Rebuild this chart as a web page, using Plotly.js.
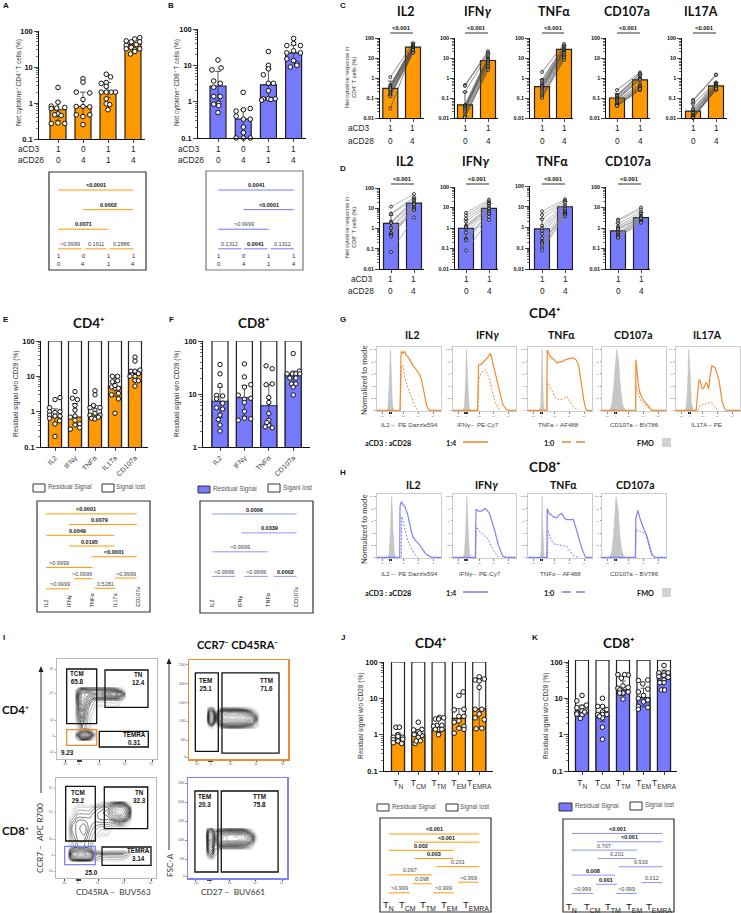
<!DOCTYPE html>
<html><head><meta charset="utf-8">
<script src="https://cdn.plot.ly/plotly-3.0.1.min.js"></script>
<style>html,body{margin:0;padding:0;background:#fff}#c{width:741px;height:913px}</style></head>
<body><div id="c"></div>
<script>
const W=741,H=913;
const ORANGE='#FF9900',BLUE='#7779FF',LINEO='#F28A30',LINEB='#8082F5';
const ARIAL='Liberation Sans, Arial, sans-serif',LATO='Lato, sans-serif';

/* ---------- panels A, B ---------- */
const stimCD3=['1','0','1','1'], stimCD28=['0','4','1','4'];
const A_means=[.65,.8,2,43], A_low=[.33,.42,1.4,30], A_high=[1.05,2,3.7,55];
const A_points=[
 [[0,2.7],[0,1.05],[-.27,.82],[.27,.75],[-.27,.7],[-.05,.72],[0,.5],[-.13,.47],[.13,.45],[-.27,.27],[0,.28],[.27,.27]],
 [[0,4.7],[0,3.8],[-.27,2],[.27,1.9],[0,1.25],[-.27,.8],[0,.8],[.27,.78],[-.27,.47],[.27,.47],[0,.42],[0,.25]],
 [[-.07,6.3],[.1,5.3],[-.27,3.5],[-.07,3.7],[-.07,2.9],[-.27,2],[-.07,2],[.13,2],[.3,2],[-.07,1.3],[-.07,.95],[.07,.9],[0,.65]],
 [[.27,65],[.07,60],[-.27,53],[-.07,50],[.27,50],[.13,42],[-.27,40],[-.27,32],[-.07,35],[.27,32],[.07,30],[-.1,23],[.07,27]]];
const B_means=[2.7,.33,2.9,22], B_low=[1.1,.14,1.2,13], B_high=[6.8,.6,8,36];
const B_points=[
 [[0,14],[-.24,7.5],[.12,8.5],[-.17,3.7],[.09,3.2],[-.17,2.5],[.09,1.4],[-.17,1.4],[.03,.9],[-.17,.85],[.03,.78],[0,.5]],
 [[0,1.8],[-.28,.55],[.01,.6],[.28,.65],[-.28,.4],[.01,.33],[.28,.33],[.01,.2],[.01,.14],[-.28,.1],[.01,.1],[.28,.1]],
 [[0,24],[0,10],[0,8],[-.2,5.5],[0,3.2],[.2,3.2],[0,2],[-.2,1.2],[0,1.2],[.27,1.2],[-.27,1.1],[.1,1.15]],
 [[0,55],[0,40],[-.27,35],[.27,35],[0,25],[.27,22],[-.27,15],[0,13.5],[.13,11],[-.13,9],[.13,10],[-.27,22]]];
/* brackets: from category, to category, row, p value, bold, label shift */
const A_stats=[[0,3,0,'<0.0001',1],[1,3,1,'0.0002',1],[0,2,2,'0.0071',1],[0,.93,3,'>0.9999',0],[1.09,1.93,3,'0.1611',0],[2.06,3,3,'0.2886',0]];
const B_stats=[[0,3,0,'0.0041',1],[1,3,1,'<0.0001',1],[0,2,2,'>0.9999',0],[0,.92,3,'0.1312',0],[1.02,1.95,3,'0.0041',1],[2.07,3,3,'0.1312',0]];

/* ---------- panels C, D: paired values ---------- */
const C_titles=['IL2','IFN<i>γ</i>','TNFα','CD107a','IL17A'];
const C_pre=[
 [1.1,.45,.4,.35,.3,.3,.25,.2,.18,.15,.14,.12,.03],
 [.45,.4,.2,.045,.04,.035,.03,.03,.025,.02,.015,.012,.011],
 [2,.8,.7,.55,.45,.4,.35,.3,.25,.2,.15,.12,.1],
 [.25,.14,.13,.12,.1,.09,.08,.07,.06,.05,.045,.04,.04],
 [.08,.07,.05,.03,.025,.02,.018,.015,.013,.012,.011,.01,.01]];
const C_post=[
 [55,45,42,38,35,33,30,28,25,22,20,18,25],
 [22,18,15,12,10,9,8,7,6,5,4,3,2.5],
 [50,42,35,30,27,25,22,20,18,15,12,10,8],
 [1.9,1.7,1.5,1.2,1,.9,.8,.5,.4,.35,.3,.25,.28],
 [1.5,1.4,.6,.55,.5,.45,.4,.38,.35,.3,.27,.25,.3]];
const C_means=[[.3,35],[.045,7.5],[.37,27],[.1,.8],[.022,.4]];
const C_low=[[.13,20],[.012,3.5],[.15,13],[.05,.35],[.012,.25]];
const C_high=[[.7,58],[.2,17],[.85,42],[.17,1.5],[.055,.6]];
const D_titles=['IL2','IFN<i>γ</i>','TNFα','CD107a'];
const D_pre=[
 [12,5.5,5,2.2,2,1.8,1,.6,.5,.45,.4,.07,1.1],
 [5.5,4,2.8,2,1.3,1.2,.9,.6,.3,.28,.25,.08,1.1],
 [6,4,2.5,1.2,.9,.7,.5,.3,.2,.18,.15,.1,.08],
 [2.6,2.3,1.7,1.2,1,.8,.6,.5,.45,.4,.35,.33,.9]];
const D_post=[
 [50,35,28,25,22,18,15,12,10,9,8,3.5,16],
 [24,20,17,15,12,10,8,7,6,5,3.5,2.5,9],
 [23,20,18,16,12,10,8,6.5,5.5,5,4.5,4,3.5],
 [10,8,6,5,4,3.5,3,2.8,2.5,2.3,2,1.8,3]];
const D_means=[[1.8,18],[.95,9],[.85,10],[.72,3.2]];
const D_low=[[.5,8],[.3,4.5],[.25,5],[.35,2]];
const D_high=[[4.5,32],[2.6,16],[2.7,18],[1.7,5.5]];

/* ---------- panels E, F, J, K ---------- */
const E_cats=['IL2','IFNγ','TNFα','IL17a','CD107a'];
const E_means=[.7,.7,.85,5,12], E_low=[.45,.42,.65,2.7,7.5], E_high=[1.2,1.7,1.5,9,15];
const E_points=[
 [[.25,2.5],[0,2.2],[-.27,1.3],[-.27,1],[.25,1],[0,.95],[-.27,.8],[0,.75],[.25,.75],[-.27,.65],[.23,.55],[0,.45],[0,.2]],
 [[0,3.7],[-.13,2.4],[.12,2.2],[0,1.5],[0,1.1],[-.23,.7],[0,.75],[0,.57],[0,.42],[.23,.45],[.23,.35],[-.23,.32]],
 [[0,3.9],[0,3],[-.08,1.5],[-.25,1.3],[.25,1.3],[0,1.1],[-.25,.8],[0,.9],[.25,.8],[-.17,.65],[0,.62],[.17,.7]],
 [[-.13,10],[.13,10],[-.13,7],[.13,7.5],[0,4.6],[-.17,5],[.17,4.6],[-.17,3],[.17,3.3],[.17,2.3],[0,.9],[0,5.5]],
 [[0,35],[0,27],[-.2,14],[0,14],[.25,15],[-.17,11],[0,10],[.17,12],[-.25,10],[0,7.7],[0,5.3],[.17,7.5]]];
const E_stats=[[0,3.98,0,'<0.0001',1,-.23],[1,3.98,1,'0.0079',1,-.13],[0,2.99,2,'0.0049',1,-.13],[1,2.99,3,'0.0195',1,-.07],[1.99,3.98,4,'<0.0001',1,0],
 [0,2.04,5,'>0.9999',0,-.47],[1.23,2.04,6.05,'>0.9999',0,-.07],[3.02,3.98,6,'>0.9999',0,0],[0,1,7,'>0.9999',0,.13],[2.13,3.05,6.95,'0.5281',0,0]];
const F_cats=['IL2','IFNγ','TNFα','CD107a'];
const F_means=[7.3,8.5,6,23], F_low=[3.6,3.8,2.8,15], F_high=[13.5,14.5,15,27];
const F_points=[
 [[0,36],[0,24],[0,14.5],[-.14,9.4],[.11,9.2],[-.14,8.1],[.11,6.7],[-.14,5.5],[.11,5.2],[0,4],[0,2.6],[0,2],[-.07,3.3]],
 [[0,37],[0,21],[.26,15],[0,13.5],[-.25,9.5],[0,8],[.26,8.3],[0,6.9],[0,4.7],[-.25,3.2],[0,3.5],[.26,3.4]],
 [[-.11,34],[.14,30],[-.11,15],[.14,15.5],[0,8.6],[0,6.9],[0,4.3],[0,3.2],[0,2.6],[-.15,2.4],[.14,2.3],[-.08,2.9]],
 [[0,58],[-.25,24],[-.03,24],[.11,24],[.25,27],[-.14,20],[.11,20],[-.07,15.5],[.11,15.5],[0,13.5],[0,9.6],[.27,24]]];
const F_stats=[[0,3,0,'0.0006',1],[1.04,3,1,'0.0339',1],[0,1.97,2,'>0.9999',0],[0,.81,3.3,'>0.9999',0],[1.14,1.97,3.3,'>0.9999',0],[2.19,3,3.3,'0.0002',1]];
const J_subs=['N','CM','TM','EM','EMRA'];
const J_means=[.75,1,1.35,2.8,5.1], J_low=[.6,.7,1.15,1.5,1.5], J_high=[1.1,1.4,2.9,5.2,36];
const J_points=[
 [[-.1,1.6],[.07,1.6],[0,1],[-.23,.85],[.23,.85],[0,.8],[-.23,.72],[.23,.75],[0,.67],[-.23,.6],[.18,.57],[0,.9]],
 [[0,2.2],[-.23,1.35],[.18,1.4],[0,1.2],[0,.95],[-.2,1],[.18,.95],[0,.85],[.1,.68],[-.15,.57],[-.1,.67],[.07,1.1]],
 [[.05,3],[-.16,2.7],[.25,2.9],[0,2.7],[-.08,1.8],[.16,1.8],[-.25,1.7],[0,1.4],[.16,1.4],[-.16,1.4],[0,1]],
 [[.21,15],[0,12],[-.23,4.8],[.25,5],[0,3.2],[-.23,2.2],[.25,1.7],[0,1.5],[.25,1.4],[-.23,1.1],[0,2.4],[.25,3.2]],
 [[0,39],[-.2,32],[.25,34],[0,20],[-.2,5],[.13,5],[0,3.7],[-.2,2.9],[.25,2.6],[.13,1.5],[-.15,1.45],[0,30]]];
const J_stats=[[0,4,0,'<0.001',1],[1.12,4,1,'<0.001',1],[0,2.87,2,'0.002',1],[1.15,2.84,3,'0.003',1],[2.09,4,4,'0.201',0],[0,1.9,5,'0.067',0],
 [1.07,1.9,6.1,'0.098',0],[3.07,3.97,5.9,'>0.999',0],[0,.93,7.2,'>0.999',0],[1.96,2.87,7.2,'>0.999',0]];
const K_means=[4.5,3.7,17,10.5,50], K_low=[3.2,2.3,12,6,30], K_high=[6.5,5.8,30,19,60];
const K_points=[
 [[0,12],[-.25,8.5],[.21,6.5],[0,5.7],[-.25,5.5],[0,4.5],[.21,4.5],[-.25,4],[0,3.5],[-.25,3.7],[-.08,2.8],[.13,4.2]],
 [[0,10],[-.23,6],[0,6],[.21,4.9],[0,4.2],[-.23,3.6],[.21,3.6],[0,3.6],[0,2.9],[0,1.6],[0,.75],[-.15,3.2]],
 [[-.25,45],[.25,44],[-.08,36],[.08,45],[-.25,19],[0,22],[.25,20],[-.16,17],[0,14],[.25,15],[-.16,14],[0,9.5]],
 [[-.25,31],[.21,32],[-.03,25],[.21,18],[-.25,15],[0,12],[-.25,10],[.21,9],[0,8],[-.25,6],[.21,5.6],[-.25,5]],
 [[0,80],[-.25,50],[0,50],[.2,50],[-.25,40],[0,43],[0,32],[0,27],[.2,38],[-.13,17],[.03,17],[-.2,27]]];
const K_stats=[[0,4,0,'<0.001',1],[1.12,4,1,'<0.001',1],[0,2.87,2,'0.707',0],[1.15,2.84,3,'0.201',0],[2.07,4,4,'0.933',0],[0,1.91,5,'0.008',1],
 [1.07,1.99,6.1,'0.001',1],[3.07,4,5.9,'0.012',0],[0,.94,7.2,'>0.999',0],[1.94,2.87,7.2,'>0.999',0]];

/* ---------- panels G, H: histograms (channel position, % of mode) ---------- */
const G_titles=['IL2','IFN<i>γ</i>','TNFα','CD107a','IL17A'];
const G_xlabels=['IL2 –  PE Dazzle594','IFNγ–  PE-Cy7','TNFa – AF488','CD107a – BV786','IL17A – PE'];
const H_titles=['IL2','IFN<i>γ</i>','TNFα','CD107a'];
const H_xlabels=['IL2 –  PE Dazzle594','IFNγ–  PE-Cy7','TNFα – AF488','CD107a – BV786'];
const G_fmo=[
 [[15,0],[17,3],[19,40],[21,100],[23,40],[24,12],[26,0]],
 [[16,0],[18,6],[20,45],[21.5,100],[23,55],[25,12],[27,0]],
 [[18,0],[20,8],[21,50],[22,100],[23,50],[24,8],[26,0]],
 [[12,0],[15,8],[18,35],[21,85],[23,100],[26,80],[29,35],[32,10],[36,0]],
 [[14,0],[16,6],[18,35],[20,100],[22,60],[24,14],[27,0]]];
const G_solid=[
 [[0,0],[36,0],[37.5,90],[38,96],[41,94],[43,97],[46,90],[48,88],[52,82],[56,74],[62,66],[67,58],[70,48],[72,36],[75,22],[78,6],[82,0],[100,0]],
 [[0,0],[39,0],[40.5,74],[44,75],[48,79],[52,84],[56,88],[59,94],[61,88],[65,70],[68,58],[72,42],[76,24],[79,10],[85,1],[88,0],[100,0]],
 [[0,0],[29.5,0],[30,99],[33,92],[35,88],[40,84],[45,78],[50,80],[54,80],[58,83],[64,85],[71,86],[75,83],[79,75],[81,60],[84,40],[87,18],[90,3],[92,0],[100,0]],
 [[0,0],[52.5,0],[53,83],[55,60],[57,40],[59,30],[62,22],[66,15],[70,10],[74,5],[78,0],[100,0]],
 [[0,0],[31.5,0],[34,30],[36,50],[38,48],[41,35],[44,38],[47,46],[49,42],[51,35],[53,55],[56,73],[58,72],[61,70],[64,60],[67,50],[70,30],[72,15],[75,5],[77,1],[80,0],[100,0]]];
const G_dash=[
 [[36.5,0],[37.5,60],[38,73],[41,73],[43,55],[48,38],[54,20],[59,8],[64,0]],
 [[39.5,0],[41,52],[45,62],[48,65],[51,67],[55,58],[59,48],[63,28],[66,15],[74,1]],
 [[29.5,0],[30,47],[33,42],[35,38],[39,30],[43,20],[48,18],[53,18],[58,21],[61,23],[65,15],[69,8],[74,3],[79,1]],
 [[52.5,0],[53,40],[55,32],[57,25],[60,18],[62,15],[66,10],[70,6],[78,0]],
 [[34,0],[38,8],[41,10],[45,9],[48,12],[52,13],[56,12],[61,5],[67,0]]];
const H_fmo=[
 [[17,0],[19,5],[21,45],[23,100],[25,45],[27,8],[29,0]],
 [[16,0],[18,5],[20,40],[22,100],[24,45],[26,8],[28,0]],
 [[19,0],[20.5,10],[21.5,55],[22,100],[23,50],[24,8],[25,0]],
 [[12,0],[15,8],[18,35],[20,75],[22,100],[25,80],[28,35],[31,10],[35,0]]];
const H_solid=[
 [[0,0],[35.5,0],[36,84],[38,91],[41,86],[43,85],[46,76],[48,70],[52,50],[56,34],[60,28],[67,20],[72,12],[77,5],[85,0],[100,0]],
 [[0,0],[35.5,0],[36.5,79],[40,76],[45,76],[48,78],[51,80],[55,76],[58,72],[62,58],[66,45],[72,20],[76,8],[79,2],[84,0],[100,0]],
 [[0,0],[29.5,0],[30,80],[33,72],[36,70],[41,66],[45,65],[49,70],[53,72],[57,64],[61,62],[66,62],[71,62],[75,48],[79,35],[84,15],[90,0],[100,0]],
 [[0,0],[52,0],[53,65],[56,77],[59,65],[62,55],[66,45],[70,35],[74,20],[78,5],[83,0],[100,0]]];
const H_dash=[
 [[38,0],[38.5,67],[41,58],[43,48],[47,32],[51,20],[55,12],[59,5],[64,0]],
 [[36,0],[37,50],[41,44],[45,40],[50,35],[56,30],[60,20],[64,12],[72,1]],
 [[30.5,0],[31,45],[35,32],[40,22],[46,21],[53,20],[57,19],[61,18],[66,10],[71,3],[79,0]],
 [[52.5,0],[53.5,46],[57,44],[62,42],[66,40],[69,38],[73,20],[78,3],[82,0]]];

/* ---------- panel I: flow cytometry ---------- */
const I_cd4_x=[18,22,25,28,32,36,40,50,60,66,69], I_cd4_y=[18,20,24,28,31,40,50,58,61,65,69,72];
const I_cd4_z=[[0,0,0,0,0,0,0,0,0,0,0],[0,2,4,4,3,1,0,0,0,0,0],[0,5,9,9,8,3,0,0,0,0,0],[0,2,4,5,3,1,0,0,0,0,0],[0,1,3,2,1,0,0,0,0,0,0],[0,3,5,3,1,0,0,0,0,0,0],
 [0,4,6,4,2,1,0,0,0,0,0],[0,5,7,6,4,2,1,1,1,0,0],[0,6,8,7,5,4,4,4,4,2,0],[0,5,8,8,7,6,6,7,8,4,0],[0,3,5,5,4,4,4,4,3,1,0],[0,0,1,1,1,1,1,1,0,0,0]];
const I_cd8_x=[12,16,22,28,34,38,45,52,58,64,68,72,76], I_cd8_y=[16,19,24,28,32,40,50,56,60,65,70,74,77];
const I_cd8_z=[[0,0,0,0,0,0,0,0,0,0,0,0,0],[0,4,6,6,5,2,1,1,1,1,1,0,0],[0,7,9,9,8,4,3,3,3,3,3,2,0],[0,4,6,6,4,1,0,0,0,0,0,0,0],[0,1,3,3,2,0,0,0,0,0,0,0,0],
 [0,2,4,4,2,1,0,0,0,0,0,0,0],[0,3,4,5,3,2,1,1,0,0,0,0,0],[0,2,4,4,3,3,3,3,3,4,3,1,0],[0,1,3,3,3,3,4,4,6,7,7,4,0],[0,0,2,2,2,3,4,5,8,10,9,6,0],[0,0,1,1,1,2,3,4,7,9,8,5,0],[0,0,0,0,0,0,1,2,4,5,4,1,0],[0,0,0,0,0,0,0,0,0,0,0,0,0]];
const I_ttm_x=[18,21,24,27,30,34,40,50,58,64,68,71];
const I_ttm4_y=[30,33,37,42,47,50,53];
const I_ttm4_z=[[0,0,0,0,0,0,0,0,0,0,0,0],[0,1,1,0,1,3,4,4,3,2,1,0],[0,5,6,1,4,7,8,8,7,5,2,0],[0,7,9,2,6,9,11,11,10,7,3,0],[0,5,6,1,4,7,8,8,6,3,1,0],[0,3,3,0,1,3,3,3,2,1,0,0],[0,1,1,0,0,0,0,0,0,0,0,0]];
const I_ttm8_y=[18,22,28,33,38,42,46,50];
const I_ttm8_z=[[0,0,0,0,0,0,0,0,0,0,0,0],[0,2,3,1,0,0,0,0,0,0,0,0],[0,5,6,2,1,0,0,0,0,0,0,0],[0,6,7,3,4,5,5,5,4,2,0,0],[0,7,9,4,7,9,10,10,8,5,1,0],[0,7,8,4,6,8,10,11,9,5,1,0],[0,5,6,3,4,5,6,6,5,2,0,0],[0,2,2,0,0,1,1,1,0,0,0,0]];
/* gates: x0,x1,y0,y1 in channel percent, colour key */
const I_gates_cd4=[[9.7,39.7,35.3,90,'k'],[48,91,51.7,89,'k'],[9.7,39.7,13.7,29.3,'o'],[42.3,91.3,12,27.7,'k']];
const I_gates_cd8=[[9.7,39.3,37,91.7,'k'],[48.3,91.7,49.3,91,'k'],[8.7,39.3,13.3,31.7,'b'],[46,95,12.7,31,'k']];
const I_gates_t4=[[6.4,29.6,7.7,87,'k'],[33.3,90.9,6,87,'k']];
const I_gates_t8=[[7,30.2,6,87,'k'],[33.6,91,6,87,'k']];
const I_labels_cd4=[['TCM<br>65.8',20.3,81.5],['TN<br>12.4',81.5,81],['TEMRA<br>0.31',77,21],['9.23',10.7,6.7]];
const I_labels_cd8=[['TCM<br>29.2',21.7,81.7],['TN<br>32.3',83,81.7],['TEMRA<br>3.14',82,23.7],['25.0',35,6]];
const I_labels_t4=[['TEM<br>25.1',16.5,75],['TTM<br>71.6',78,75]];
const I_labels_t8=[['TEM<br>20.3',16.8,78],['TTM<br>75.8',72,78]];

/* ---------- builder ---------- */
const traces=[],shapes=[],annotations=[],layout={};
let nAx=0;
const fx=x=>x/W, fy=y=>1-y/H;
const tSub=(s,sz)=>`T<span style="font-size:${sz}px;baseline-shift:-2.5px">${s}</span>`;
function panel(x0,y0,x1,y1,xa,ya){
  nAx++;const n=nAx===1?'':nAx;
  layout['xaxis'+n]=Object.assign({domain:[fx(x0),fx(x1)],anchor:'y'+n,showgrid:false,zeroline:false,fixedrange:true},xa);
  layout['yaxis'+n]=Object.assign({domain:[fy(y1),fy(y0)],anchor:'x'+n,showgrid:false,zeroline:false,fixedrange:true},ya);
  return {x:'x'+n,y:'y'+n};
}
function T(text,x,y,size,o={}){
  annotations.push(Object.assign({text,x:fx(x),y:fy(y),xref:'paper',yref:'paper',showarrow:false,xanchor:'center',yanchor:'middle',
    font:{family:o.family||ARIAL,size,color:o.color||'#222'},borderpad:0},o.extra||{},o.angle!==undefined?{textangle:o.angle}:{}));
}
function AT(ax,text,x,y,size,o={}){
  annotations.push(Object.assign({text,x,y,xref:ax.x,yref:ax.y,showarrow:false,xanchor:'center',yanchor:'middle',
    font:{family:o.family||ARIAL,size,color:o.color||'#222'},borderpad:0},o.extra||{},o.angle!==undefined?{textangle:o.angle}:{}));
}
function rowText(ax,x,text,y,size){ annotations.push({text,x,y:fy(y),xref:ax.x,yref:'paper',showarrow:false,xanchor:'center',yanchor:'middle',font:{family:ARIAL,size,color:'#222'},borderpad:0}); }
const minorVals=(lo,hi)=>{const v=[];for(let e=lo;e<hi;e++)for(let m=2;m<=9;m++)v.push(m*Math.pow(10,e));return v;};
function logAxis(lo,hi,top,labels,size){
  const vals=[];for(let e=lo;e<=hi;e++)vals.push(Math.pow(10,e));
  return {type:'log',range:[lo,top===undefined?hi:top],tickmode:'array',tickvals:vals,ticktext:labels,ticks:'outside',ticklen:3.5,tickwidth:1,
    showline:true,linewidth:1.2,linecolor:'#111',tickfont:{family:ARIAL,size,color:'#111',weight:700},
    minor:{ticks:'outside',ticklen:2,tickwidth:.6,tickcolor:'#111',tickmode:'array',tickvals:minorVals(lo,hi)}};
}
function errBar(ms,lo,hi,cap){return {type:'data',symmetric:false,array:ms.map((m,i)=>hi[i]-m),arrayminus:ms.map((m,i)=>m-lo[i]),color:'#333',thickness:.8,width:cap};}
function barChart(g){
  const sp=g.sp,ax=panel(g.l,g.t,g.r,g.b,
    Object.assign({range:[(g.l-g.first)/sp,(g.r-g.first)/sp],tickmode:'array',tickvals:g.means.map((_,i)=>i),ticks:'outside',ticklen:3,showline:true,linewidth:1.2,linecolor:'#111'},
      g.xlabels?{ticktext:g.xlabels,tickfont:g.xfont,tickangle:g.xangle===undefined?0:g.xangle}:{showticklabels:false}),
    logAxis(g.lo,g.hi,g.top,g.ylabels,g.ysize||7.5));
  const xs=g.means.map((_,i)=>i),w=g.bw/sp;
  if(g.whiteTop)traces.push({type:'bar',x:xs,y:xs.map(()=>g.whiteTop),width:w,xaxis:ax.x,yaxis:ax.y,marker:{color:'#fff',line:{color:'#222',width:1.2}}});
  traces.push({type:'bar',x:xs,y:g.means,width:w,xaxis:ax.x,yaxis:ax.y,marker:{color:g.color,line:{color:'#222',width:1.2}},error_y:errBar(g.means,g.low,g.high,3)});
  const px=[],py=[];g.points.forEach((arr,i)=>arr.forEach(p=>{px.push(i+p[0]);py.push(p[1]);}));
  traces.push({type:'scatter',mode:'markers',x:px,y:py,xaxis:ax.x,yaxis:ax.y,cliponaxis:false,marker:{size:g.ms||4.6,color:'rgba(255,255,255,.9)',line:{color:'#111',width:1}}});
  return ax;
}
function statBox(g){
  const ax=panel(g.l,g.t,g.r,g.b,{range:g.xr,visible:false},{range:g.yr,visible:false});
  shapes.push({type:'rect',xref:'paper',yref:'paper',x0:fx(g.l),x1:fx(g.r),y0:fy(g.b),y1:fy(g.t),line:{color:g.frame||'#333',width:1.2},fillcolor:'rgba(0,0,0,0)'});
  const lx=[],ly=[];
  g.stats.forEach(s=>{lx.push(s[0],s[1],null);ly.push(s[2],s[2],null);
    AT(ax,s[4]?'<b>'+s[3]+'</b>':s[3],(s[0]+s[1])/2+(s[5]||0),s[2],g.font||5.5,{color:s[4]?'#111':'#444',extra:{yshift:g.shift||4.8}});});
  traces.push({type:'scatter',mode:'lines',x:lx,y:ly,xaxis:ax.x,yaxis:ax.y,line:{color:g.color,width:1},connectgaps:false});
  return ax;
}
const catXrange=(l,r,first,sp)=>[(l-first)/sp,(r-first)/sp];
const leftT=(t,x,y,size)=>T(t,x,y,size,{extra:{xanchor:'left'}});

/* A, B */
const lab3=['0.1','1','10','100'];
const axA=barChart({l:39,r:145,t:31,b:139,first:58,sp:25,bw:16,means:A_means,low:A_low,high:A_high,points:A_points,color:ORANGE,lo:-1,hi:2,ylabels:lab3});
const axB=barChart({l:198,r:306,t:29,b:138,first:218,sp:25.2,bw:16,means:B_means,low:B_low,high:B_high,points:B_points,color:BLUE,lo:-1,hi:2,ylabels:lab3});
[axA,axB].forEach((ax,k)=>{stimCD3.forEach((v,i)=>{rowText(ax,i,v,149,8.3);rowText(ax,i,stimCD28[i],160,8.3);});
  leftT('aCD3',k?177:17,149,8.3);leftT('aCD28',k?177:17,160,8.3);});
T('Net cytokine⁺ CD4⁺ T cells (%)',19,83,6.5,{angle:-90,color:'#333'});
T('Net cytokine⁺ CD8⁺ T cells (%)',177,83,6.5,{angle:-90,color:'#333'});
const sA=statBox({l:49,r:146,t:172,b:270,xr:catXrange(49,146,58,25.1),yr:[4.08,-.92],stats:A_stats,color:ORANGE});
const sB=statBox({l:206,r:303,t:171,b:270,xr:catXrange(206,303,218.3,25.2),yr:[4.08,-.97],stats:B_stats,color:BLUE,frame:'#777'});
[sA,sB].forEach(ax=>stimCD3.forEach((v,i)=>{AT(ax,v,i,3.37,5.8);AT(ax,stimCD28[i],i,3.77,5.8);}));

/* C, D */
function pairChart(g){
  const sp=g.b1-g.b0,ax=panel(g.l,g.t,g.r,g.bot,
    {range:[(g.l-g.b0)/sp,(g.r-g.b0)/sp],tickmode:'array',tickvals:[0,1],showticklabels:false,ticks:'outside',ticklen:3,showline:true,linewidth:1.2,linecolor:'#111'},
    logAxis(-2,2,undefined,['0.01','0.1','1','10','100'],5.5));
  traces.push({type:'bar',x:[0,1],y:g.means,width:15/sp,xaxis:ax.x,yaxis:ax.y,marker:{color:g.color,line:{color:'#222',width:1.2}},error_y:errBar(g.means,g.low,g.high,2.5)});
  const lx=[],ly=[];g.pre.forEach((v,i)=>{lx.push(0,1,null);ly.push(v,g.post[i],null);});
  traces.push({type:'scatter',mode:'lines+markers',x:lx,y:ly,xaxis:ax.x,yaxis:ax.y,cliponaxis:false,connectgaps:false,line:{color:g.lineColor,width:.6},marker:{size:3,color:'rgba(255,255,255,.5)',line:{color:'#111',width:.8}}});
  shapes.push({type:'line',xref:ax.x,yref:'paper',x0:0,x1:1,y0:fy(g.py+5),y1:fy(g.py+5),line:{color:'#333',width:1}});
  annotations.push({text:'<b><0.001</b>',x:.5,y:fy(g.py),xref:ax.x,yref:'paper',xanchor:'center',yanchor:'middle',showarrow:false,font:{family:ARIAL,size:5.8,color:'#111'},borderpad:0});
  T('<b>'+g.title+'</b>',g.tx,g.ty,12.5,{family:LATO,color:'#111'});
  rowText(ax,0,'1',g.r1,8.3);rowText(ax,1,'1',g.r1,8.3);rowText(ax,0,'0',g.r2,8.3);rowText(ax,1,'4',g.r2,8.3);
}
const C_geo=[[380,424,390.3,413,405],[455,498,465,488,477],[530,573,542,564,554],[606,650,617,640,627],[682,727,693,716,701]];
C_geo.forEach((c,i)=>pairChart({l:c[0],r:c[1],b0:c[2],b1:c[3],t:38,bot:118,means:C_means[i],low:C_low[i],high:C_high[i],pre:C_pre[i],post:C_post[i],color:ORANGE,lineColor:'#444',title:C_titles[i],tx:c[4],ty:11,py:28,r1:128,r2:141}));
const D_geo=[[380,424,391,414,404,188],[455,498,466,489,476,187],[530,573,542,565,552,186],[606,650,618,641,628,187]];
D_geo.forEach((c,i)=>pairChart({l:c[0],r:c[1],b0:c[2],b1:c[3],t:c[5],bot:269,means:D_means[i],low:D_low[i],high:D_high[i],pre:D_pre[i],post:D_post[i],color:BLUE,lineColor:'#888',title:D_titles[i],tx:c[4],ty:161,py:179,r1:279,r2:291}));
leftT('aCD3',347,128,8.3);leftT('aCD28',347,141,8.3);leftT('aCD3',350,279,8.3);leftT('aCD28',347,291,8.3);
T('Net cytokine response in<br>CD4⁺ T cells (%)',351,78,5.6,{angle:-90,color:'#333'});
T('Net cytokine response in<br>CD8⁺ T cells (%)',351,228,5.6,{angle:-90,color:'#333'});

/* E, F */
const xf7={family:ARIAL,size:7,color:'#333'};
barChart({l:41,r:148,t:341,b:447,first:55,sp:20,bw:13,means:E_means,low:E_low,high:E_high,points:E_points,color:ORANGE,lo:-1,hi:2,ylabels:lab3,whiteTop:100,xlabels:E_cats,xangle:-45,xfont:xf7,ms:4.4});
barChart({l:203,r:310,t:341,b:447,first:220,sp:24.4,bw:16,means:F_means,low:F_low,high:F_high,points:F_points,color:BLUE,lo:0,hi:2,ylabels:['1','10','100'],whiteTop:100,xlabels:F_cats,xangle:-45,xfont:xf7,ms:4.4});
const bigT=(t,x,y)=>T('<b>'+t+'</b>',x,y,13.5,{family:LATO,color:'#111'});
bigT('CD4⁺',89,323);bigT('CD8⁺',254,323);
T('Residual signal w/o CD28 (%)',16,394,6.5,{angle:-90,color:'#333'});
T('Residual signal w/o CD28 (%)',177,394,6.5,{angle:-90,color:'#333'});
function legBox(x0,x1,y0,y1,color){shapes.push({type:'rect',xref:'paper',yref:'paper',x0:fx(x0),x1:fx(x1),y0:fy(y1),y1:fy(y0),fillcolor:color,line:{color:'#333',width:1}});}
function legText(t,x,y){T(t,x,y,6.3,{color:'#555',extra:{xanchor:'left'}});}
legBox(33,45,484,492,'#fff');legText('Residual Signal',47,487);legBox(102,114,484,492,'#fff');legText('Signal lost',115,487);
legBox(198,210,486,493,BLUE);legText('Residual Signal',212,489);legBox(268,280,484,492,'#fff');legText('Siganl lost',282,488);
const sE=statBox({l:37,r:150,t:501,b:612,xr:catXrange(37,150,46,22.8),yr:[9.16,-1.2],stats:E_stats,color:ORANGE,shift:4.5});
const sF=statBox({l:200,r:313,t:501,b:613,xr:catXrange(200,313,212.3,28.1),yr:[5.24,-.69],stats:F_stats,color:'#9092FA',shift:4.5});
E_cats.forEach((c,i)=>AT(sE,c,i,8.8,5.5,{angle:-90,extra:{yanchor:'bottom'}}));
F_cats.forEach((c,i)=>AT(sF,c,i,4.97,5.5,{angle:-90,extra:{yanchor:'bottom'}}));

/* G, H */
function hist(g){
  const ax=panel(g.l,g.t,g.r,g.b,
    {range:[0,100],tickmode:'array',tickvals:[8,21,42,65,88],ticktext:['-10³','0','10³','10⁴','10⁵'],tickfont:{size:2.5,color:'#666',family:ARIAL},ticks:'outside',ticklen:1.5,tickwidth:.6,tickcolor:'#333',showline:true,mirror:true,linecolor:'#ccc',linewidth:1,
     minor:{ticks:'outside',ticklen:1.5,tickwidth:.8,tickcolor:'#111',tickmode:'array',tickvals:[19,20,22,23]}},
    {range:[-1,104],tickmode:'array',tickvals:[0,20,40,60,80,100],ticktext:['0','20','40','60','80','100'],tickfont:{size:2.5,color:'#666',family:ARIAL},ticks:'outside',ticklen:1.5,tickwidth:.6,tickcolor:'#555',showline:true,mirror:true,linecolor:'#ccc',linewidth:1});
  const sp=a=>[a.map(p=>p[0]),a.map(p=>p[1])];
  let [fxs,fys]=sp(g.fmo);
  traces.push({type:'scatter',mode:'lines',x:fxs,y:fys,xaxis:ax.x,yaxis:ax.y,fill:'tozeroy',fillcolor:'#c6c6c6',line:{color:'#bbb',width:.5}});
  let [dx,dy]=sp(g.dash);
  traces.push({type:'scatter',mode:'lines',x:dx,y:dy,xaxis:ax.x,yaxis:ax.y,line:{color:g.c,width:1,dash:'2px,1.5px'}});
  let [sx,sy]=sp(g.solid);
  traces.push({type:'scatter',mode:'lines',x:sx,y:sy,xaxis:ax.x,yaxis:ax.y,line:{color:g.c,width:1.2}});
  T('<b>'+g.title+'</b>',g.tx,g.ty,10.5,{family:LATO,color:'#111'});
  T(g.xlab,g.xlx,g.xly,6.2,{color:'#444'});
}
const G_geo=[[377,441,412],[453,516,487],[528,592,561],[602,666,633],[676,740,707]];
G_geo.forEach((c,i)=>hist({l:c[0],r:c[1],t:347,b:411,fmo:G_fmo[i],solid:G_solid[i],dash:G_dash[i],c:LINEO,title:G_titles[i],tx:c[2],ty:335,xlab:G_xlabels[i],xlx:(c[0]+c[1])/2-(i==1?7:i==4?2:i==2?2:0),xly:424}));
const H_geo=[[377,441,413],[453,516,486],[528,592,563],[602,666,635]];
H_geo.forEach((c,i)=>hist({l:c[0],r:c[1],t:494,b:558,fmo:H_fmo[i],solid:H_solid[i],dash:H_dash[i],c:LINEB,title:H_titles[i],tx:c[2],ty:485,xlab:H_xlabels[i],xlx:(c[0]+c[1])/2-(i==1?4:0),xly:573}));
bigT('CD4⁺',545,313);bigT('CD8⁺',545,467);
T('Normalized to mode',364,380,7.8,{angle:-90,color:'#333',family:LATO});T('Normalized to mode',364,529,7.8,{angle:-90,color:'#333',family:LATO});
function histLegend(y,col){
  T('<b>aCD3 : aCD28</b>',388,y,7.3,{family:LATO,color:'#111'});
  T('<b>1:4</b>',451,y,7.3,{family:LATO,color:'#111'});T('<b>1:0</b>',549,y,7.3,{family:LATO,color:'#111'});T('<b>FMO</b>',645,y,7.3,{family:LATO,color:'#111'});
  const line=(a,b)=>shapes.push({type:'line',xref:'paper',yref:'paper',x0:fx(a),x1:fx(b),y0:fy(y-1),y1:fy(y-1),line:{color:col,width:1.6}});
  line(463,488);line(562,571);line(576,585);
  shapes.push({type:'rect',xref:'paper',yref:'paper',x0:fx(662),x1:fx(671),y0:fy(y+4),y1:fy(y-5),fillcolor:'#d2d2d2',line:{width:0}});
}
histLegend(443,LINEO);histLegend(593,LINEB);

/* I */
const hazeScale=[[0,'#ffffff'],[.03,'#e6e6e6'],[.1,'#e0e0e0'],[.2,'#ffffff'],[1,'#ffffff']];
const lineScale=[[0,'#9a9a9a'],[.1,'#444'],[.3,'#000'],[.6,'#444'],[1,'#999']];
const gateCol={k:'#111',o:LINEO,b:LINEB};
function flow(g){
  const ax=panel(g.l,g.t,g.r,g.b,
   {range:[0,100],tickmode:'array',tickvals:[8,22,42,68,95],ticktext:['-10³','0','10³','10⁴','10⁵'],ticks:'outside',ticklen:1.5,tickwidth:.8,tickcolor:'#111',tickfont:{size:2.8,color:'#555',family:ARIAL},showline:true,mirror:true,linecolor:g.frame,linewidth:g.fw,
    minor:{ticks:'outside',ticklen:1.5,tickwidth:.8,tickcolor:'#111',tickmode:'array',tickvals:[20,21,23,24]}},
   {range:[0,100],tickmode:'array',tickvals:g.yt,ticktext:g.ytl,ticks:'outside',ticklen:1.5,tickwidth:.6,tickcolor:'#555',tickfont:{size:2.8,color:'#555',family:ARIAL},showline:true,mirror:true,linecolor:g.frame,linewidth:g.fw});
  traces.push({type:'contour',x:g.cx,y:g.cy,z:g.cz,xaxis:ax.x,yaxis:ax.y,autocontour:false,zmin:0,zmax:11,contours:{coloring:'fill',start:.15,end:3,size:.4,showlines:false},line:{width:0,smoothing:1.3},colorscale:hazeScale,showscale:false});
  traces.push({type:'contour',x:g.cx,y:g.cy,z:g.cz,xaxis:ax.x,yaxis:ax.y,autocontour:false,zmin:0,zmax:11,contours:{coloring:'lines',start:.8,end:11,size:.7},line:{width:.55,smoothing:1.3},colorscale:lineScale,showscale:false});
  g.gates.forEach(s=>shapes.push({type:'rect',xref:ax.x,yref:ax.y,x0:s[0],x1:s[1],y0:s[2],y1:s[3],line:{color:gateCol[s[4]],width:1.3},fillcolor:'rgba(0,0,0,0)'}));
  g.labels.forEach(s=>AT(ax,'<b>'+s[0]+'</b>',s[1],s[2],6.3,{color:'#111'}));
}
const flY=[90,66,39,23,7],flYl=['10⁵','10⁴','10³','0','-10³'],fsY=[95,76,57,38,19,2],fsYl=['250K','200K','150K','100K','50K','0'];
flow({l:57,r:157,t:659,b:759,frame:'#bbb',fw:1,yt:flY,ytl:flYl,cx:I_cd4_x,cy:I_cd4_y,cz:I_cd4_z,gates:I_gates_cd4,labels:I_labels_cd4});
flow({l:56,r:156,t:778,b:878,frame:'#bbb',fw:1,yt:flY,ytl:flYl,cx:I_cd8_x,cy:I_cd8_y,cz:I_cd8_z,gates:I_gates_cd8,labels:I_labels_cd8});
flow({l:189,r:288,t:660,b:759,frame:LINEO,fw:1.5,yt:fsY,ytl:fsYl,cx:I_ttm_x,cy:I_ttm4_y,cz:I_ttm4_z,gates:I_gates_t4,labels:I_labels_t4});
flow({l:188,r:287,t:778,b:878,frame:LINEB,fw:1.5,yt:fsY,ytl:fsYl,cx:I_ttm_x,cy:I_ttm8_y,cz:I_ttm8_z,gates:I_gates_t8,labels:I_labels_t8});
T('<b>CCR7⁻ CD45RA⁻</b>',237,644,11,{family:LATO,color:'#111'});
T('<b>CD4⁺</b>',15,709,11.5,{family:LATO,color:'#111'});T('<b>CD8⁺</b>',15,830,11.5,{family:LATO,color:'#111'});
T('CCR7 –  APC R700',40,838,8.3,{angle:-90,color:'#333',family:LATO});
T('CD45RA –  BUV563',113,892,8.3,{color:'#333',family:LATO});
T('FSC-A',170,865,8.3,{angle:-90,color:'#333',family:LATO});
T('CD27 –  BUV661',233,892,8.3,{color:'#333',family:LATO});
function arrow(x,yTop,yBot){
  shapes.push({type:'line',xref:'paper',yref:'paper',x0:fx(x),x1:fx(x),y0:fy(yBot),y1:fy(yTop+4),line:{color:'#333',width:1}});
  shapes.push({type:'path',xref:'paper',yref:'paper',path:`M ${fx(x)} ${fy(yTop)} L ${fx(x-2.5)} ${fy(yTop+6)} L ${fx(x+2.5)} ${fy(yTop+6)} Z`,fillcolor:'#222',line:{width:0}});
}
arrow(41,666,793);arrow(169,658,850);

/* J, K */
const xf9={family:ARIAL,size:9,color:'#333'};
const J_ticks=J_subs.map(s=>tSub(s,6.5));
barChart({l:384,r:493,t:662,b:771,first:398,sp:20.3,bw:13,means:J_means,low:J_low,high:J_high,points:J_points,color:ORANGE,lo:-1,hi:2,ylabels:lab3,whiteTop:100,xlabels:J_ticks,xfont:xf9,ms:4.6});
barChart({l:569,r:677,t:660,b:771,first:582,sp:20.5,bw:13,means:K_means,low:K_low,high:K_high,points:K_points,color:BLUE,lo:-1,hi:2,top:2.055,ylabels:lab3,whiteTop:113,xlabels:J_ticks,xfont:xf9,ms:4.6});
bigT('CD4⁺',431,643);bigT('CD8⁺',619,643);
T('Residual signal w/o CD28 (%)',361,716,6.5,{angle:-90,color:'#333'});
T('Residual signal w/o CD28 (%)',546,716,6.5,{angle:-90,color:'#333'});
legBox(377,389,804,811,'#fff');legText('Residual Signal',391,807);legBox(446,458,804,811,'#fff');legText('Signal lost',459,807);
legBox(559,572,803,811,BLUE);legText('Residual Signal',574,806);legBox(630,642,802,810,'#fff');legText('Signal lost',644,805);
const sJ=statBox({l:380,r:491,t:818,b:912,xr:catXrange(380,491,388.7,22.67),yr:[9.55,-1.96],stats:J_stats,color:ORANGE,shift:4.6});
const sK=statBox({l:563,r:674,t:819,b:912,xr:catXrange(563,674,571.7,22.67),yr:[9.43,-1.74],stats:K_stats,color:'#8F91FB',shift:4.6});
const J_box_x=[0,.82,1.72,2.68,3.84], K_box_x=[-.03,.93,1.81,2.76,3.85];
J_subs.forEach((s,i)=>{AT(sJ,tSub(s,7),J_box_x[i],8.7,9.5,{color:'#222'});AT(sK,tSub(s,7),K_box_x[i],8.85,9.5,{color:'#222'});});

/* panel letters */
[['A',6,6],['B',171,6],['C',343,6],['D',343,169],['E',6,319],['F',171,319],['G',343,319],['H',343,472],['I',4,637],['J',343,637],['K',535,637]]
 .forEach(l=>T('<b>'+l[0]+'</b>',l[1],l[2],8,{color:'#111'}));

Object.assign(layout,{width:W,height:H,margin:{l:0,r:0,t:0,b:0},paper_bgcolor:'#fff',plot_bgcolor:'rgba(0,0,0,0)',showlegend:false,barmode:'overlay',hovermode:false,shapes,annotations,font:{family:ARIAL}});
Plotly.newPlot('c',traces,layout,{staticPlot:true,displayModeBar:false});
</script></body></html>
